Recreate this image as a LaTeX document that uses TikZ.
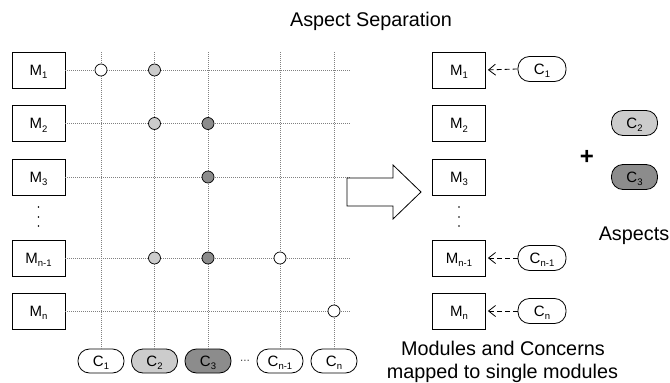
\documentclass[tikz,border=0pt]{standalone}
\usepackage{fontspec}
\setmainfont{Liberation Sans}
\usetikzlibrary{arrows.meta}
\newcommand{\lsub}[1]{\raisebox{-3.5pt}{\fontsize{9.5}{10}\selectfont #1}}
\tikzset{
  mbox/.style={draw, line width=0.8pt, minimum width=53pt, minimum height=36pt, inner sep=0pt,
    text height=10.8pt, text depth=0pt, font=\fontsize{15}{15}\selectfont},
  cpill/.style={draw, line width=0.8pt, rounded corners=11.5pt, minimum width=46pt, minimum height=24pt,
    inner sep=0pt, text height=10.8pt, text depth=0pt, font=\fontsize{15}{15}\selectfont},
  gridline/.style={dash pattern=on 0.7pt off 1.3pt, black!50, line width=0.6pt},
  dotc/.style={circle, draw, line width=0.7pt, minimum size=12pt, inner sep=0pt},
  lightf/.style={fill=black!20},
  darkf/.style={fill=black!45},
  whitef/.style={fill=white},
  dasharrow/.style={dash pattern=on 5pt off 3pt, line width=0.8pt, shorten >=2pt,
    -{Straight Barb[length=7pt,width=11pt]}},
  bigtext/.style={font=\fontsize{19.8}{22}\selectfont, inner sep=0pt},
  smalldot/.style={fill=black}
}
\begin{document}
\begin{tikzpicture}[x=1pt,y=-1pt]
\useasboundingbox (0,0) rectangle (670,383);

% title
\node[bigtext, anchor=base] (title) at (371,26) {Aspect Separation};

% left modules
\node[mbox] (lm1) at (38.5,70) {M\lsub{1}};
\node[mbox] (lm2) at (38.5,123.5) {M\lsub{2}};
\node[mbox] (lm3) at (38.5,177) {M\lsub{3}};
\node[mbox] (lmn1) at (38.5,258) {M\lsub{n-1}};
\node[mbox] (lmn) at (38.5,311) {M\lsub{n}};
\foreach \y in {207,217,226} \fill[smalldot] (38.5,\y) circle (0.8pt);

% bottom concerns
\node[cpill, whitef] (lc1) at (101,361) {C\lsub{1}};
\node[cpill, lightf] (lc2) at (154.5,361) {C\lsub{2}};
\node[cpill, darkf] (lc3) at (208,361) {C\lsub{3}};
\node[cpill, whitef] (lcn1) at (280,361) {C\lsub{n-1}};
\node[cpill, whitef] (lcn) at (334,361) {C\lsub{n}};
\node[anchor=base, inner sep=0pt, font=\fontsize{10}{10}\selectfont] (ldots) at (245,363) {···};

% grid coordinates
\coordinate (h1) at (350,70);
\coordinate (h2) at (350,123.5);
\coordinate (h3) at (350,177);
\coordinate (hn1) at (350,258);
\coordinate (hn) at (350,311);
\coordinate (v1) at (101,52);
\coordinate (v2) at (154.5,52);
\coordinate (v3) at (208,52);
\coordinate (vn1) at (280,52);
\coordinate (vn) at (334,52);

\draw[gridline] (lm1.east) -- (h1);
\draw[gridline] (lm2.east) -- (h2);
\draw[gridline] (lm3.east) -- (h3);
\draw[gridline] (lmn1.east) -- (hn1);
\draw[gridline] (lmn.east) -- (hn);
\draw[gridline] (v1) -- (lc1.north);
\draw[gridline] (v2) -- (lc2.north);
\draw[gridline] (v3) -- (lc3.north);
\draw[gridline] (vn1) -- (lcn1.north);
\draw[gridline] (vn) -- (lcn.north);

% incidence dots
\node[dotc, whitef] (d11) at (101,70) {};
\node[dotc, lightf] (d12) at (154.5,70) {};
\node[dotc, lightf] (d22) at (154.5,123.5) {};
\node[dotc, darkf] (d23) at (208,123.5) {};
\node[dotc, darkf] (d33) at (208,177) {};
\node[dotc, lightf] (dn12) at (154.5,258) {};
\node[dotc, darkf] (dn13) at (208,258) {};
\node[dotc, whitef] (dn1n1) at (280,258) {};
\node[dotc, whitef] (dnn) at (334,311) {};

% big arrow
\draw[line width=0.8pt, fill=white] (347,178) -- (393,178) -- (393,165) -- (421,192)
  -- (393,219) -- (393,206) -- (347,206) -- cycle;

% right modules
\node[mbox] (rm1) at (459,70) {M\lsub{1}};
\node[mbox] (rm2) at (459,123.5) {M\lsub{2}};
\node[mbox] (rm3) at (459,177) {M\lsub{3}};
\node[mbox] (rmn1) at (459,258) {M\lsub{n-1}};
\node[mbox] (rmn) at (459,311) {M\lsub{n}};
\foreach \y in {207,217,226} \fill[smalldot] (459,\y) circle (0.8pt);

\node[cpill, whitef, minimum width=48pt, minimum height=25pt] (rc1) at (542,69) {C\lsub{1}};
\node[cpill, whitef, minimum width=48pt, minimum height=25pt] (rcn1) at (542,258) {C\lsub{n-1}};
\node[cpill, whitef, minimum width=48pt, minimum height=25pt] (rcn) at (542,311) {C\lsub{n}};
\draw[dasharrow] (rc1.west) -- (rm1.east);
\draw[dasharrow] (rcn1.west) -- (rmn1.east);
\draw[dasharrow] (rcn.west) -- (rmn.east);

% aspects
\node[cpill, lightf, minimum height=25pt] (a2) at (634.5,123) {C\lsub{2}};
\node[cpill, darkf, minimum height=25pt] (a3) at (634.5,177) {C\lsub{3}};
\node[inner sep=0pt, font=\fontsize{24}{24}\selectfont\bfseries] (plus) at (587,157) {+};
\node[bigtext, anchor=base] (asp) at (634,240) {Aspects};

% bottom caption
\node[bigtext, anchor=base] (cap1) at (503,355.7) {Modules and Concerns};
\node[bigtext, anchor=base] (cap2) at (502.5,378) {mapped to single modules};
\end{tikzpicture}
\end{document}
